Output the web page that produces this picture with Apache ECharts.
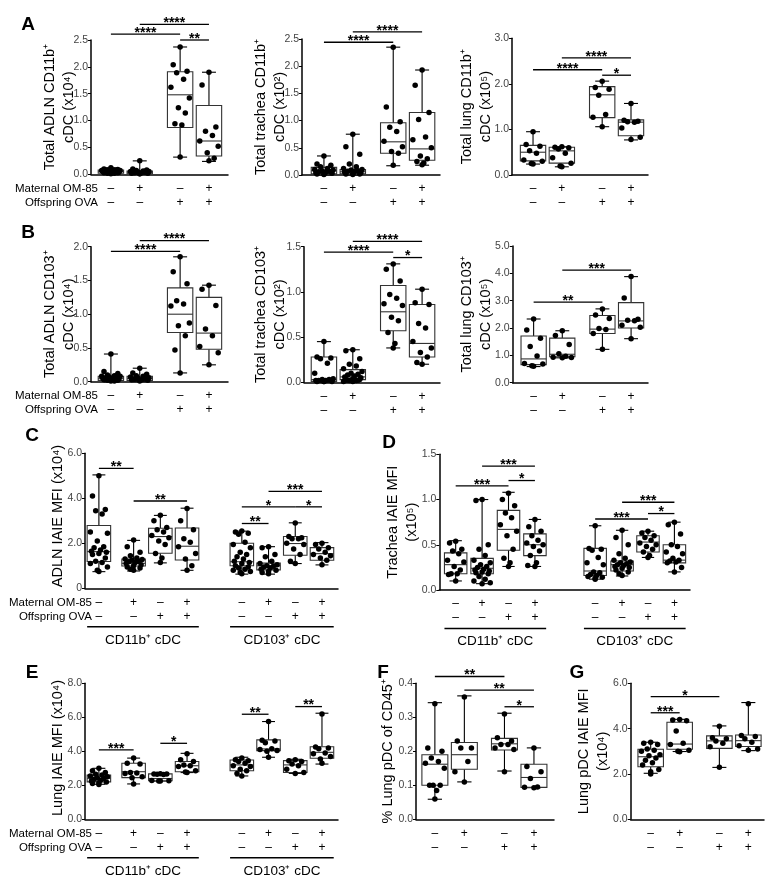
<!DOCTYPE html>
<html><head><meta charset="utf-8">
<script src="https://cdn.jsdelivr.net/npm/echarts@6/dist/echarts.min.js"></script>
<style>html,body{margin:0;padding:0;background:#fff}#c{width:777px;height:883px}</style>
</head><body><div id="c"></div>
<script>
// ---------------- DATA ----------------
const maternal4 = ['–','+','–','+'];
const offspring4 = ['–','–','+','+'];
const maternal8 = maternal4.concat(maternal4);
const offspring8 = offspring4.concat(offspring4);
const rowTitles = ['Maternal OM-85', 'Offspring OVA'];
const cellGroups = ['CD11b⁺ cDC', 'CD103⁺ cDC'];

// box stats: [min, q1, median, q3, max]
const a1Box = [[0.0,0.02,0.05,0.08,0.12],[0.0,0.01,0.03,0.06,0.25],[0.32,0.87,1.48,1.91,2.37],[0.24,0.34,0.62,1.28,1.90]];
const a1Pts = [
  [0.12,0.10,0.09,0.08,0.08,0.07,0.07,0.06,0.06,0.05,0.05,0.05,0.04,0.04,0.03,0.03,0.02,0.02,0.01],
  [0.25,0.10,0.08,0.07,0.06,0.05,0.05,0.04,0.04,0.03,0.03,0.02,0.02,0.01,0.01],
  [2.37,2.04,1.92,1.89,1.77,1.62,1.42,1.24,1.14,0.94,0.92,0.32],
  [1.90,1.66,0.88,0.80,0.72,0.62,0.52,0.40,0.30,0.25]];
const a1Sig = [[0,2,2.61,'****'],[1,3,2.79,'****'],[2,3,2.50,'**']];

const a2Box = [[0,0.02,0.08,0.14,0.35],[0,0.02,0.06,0.10,0.75],[0.17,0.40,0.61,0.96,2.35],[0.18,0.27,0.48,1.15,1.93]];
const a2Pts = [
  [0.35,0.20,0.18,0.15,0.12,0.10,0.09,0.08,0.07,0.06,0.05,0.04,0.03,0.02,0.02,0.01],
  [0.75,0.52,0.38,0.20,0.15,0.12,0.10,0.09,0.08,0.07,0.06,0.05,0.04,0.03,0.02,0.02,0.01],
  [2.35,1.25,0.98,0.88,0.80,0.62,0.52,0.43,0.40,0.18],
  [1.93,1.65,1.15,1.02,0.70,0.65,0.50,0.35,0.30,0.25,0.22,0.19]];
const a2Sig = [[0,2,2.44,'****'],[1,3,2.63,'****']];

const a3Box = [[0.24,0.31,0.50,0.65,0.95],[0.18,0.26,0.53,0.61,0.62],[1.06,1.26,1.76,1.94,2.06],[0.77,0.86,1.16,1.21,1.57]];
const a3Pts = [
  [0.95,0.67,0.63,0.53,0.48,0.33,0.30,0.25,0.24],
  [0.62,0.61,0.60,0.57,0.48,0.38,0.26,0.20,0.18],
  [2.06,1.92,1.88,1.75,1.33,1.27,1.06],
  [1.57,1.20,1.18,1.17,1.16,1.03,0.83,0.78]];
const a3Sig = [[0,2,2.31,'****'],[1,3,2.57,'****'],[2,3,2.19,'*']];

const b1Box = [[0,0.02,0.05,0.08,0.41],[0,0.02,0.05,0.08,0.20],[0.13,0.73,1.00,1.39,1.85],[0.25,0.48,0.72,1.25,1.43]];
const b1Pts = [
  [0.41,0.15,0.12,0.10,0.09,0.08,0.08,0.07,0.06,0.06,0.05,0.05,0.04,0.03,0.03,0.02,0.02,0.01,0.01],
  [0.20,0.13,0.11,0.09,0.08,0.07,0.06,0.05,0.05,0.04,0.03,0.03,0.02,0.02,0.01],
  [1.85,1.63,1.45,1.20,1.15,1.12,0.87,0.83,0.68,0.47,0.13],
  [1.43,1.37,1.13,0.78,0.68,0.52,0.43,0.25]];
const b1Sig = [[0,2,1.93,'****'],[1,3,2.09,'****']];

const b2Box = [[0,0.01,0.03,0.28,0.45],[0,0.03,0.06,0.14,0.36],[0.38,0.57,0.78,1.07,1.31],[0.20,0.28,0.43,0.86,1.03]];
const b2Pts = [
  [0.45,0.28,0.27,0.26,0.21,0.10,0.04,0.03,0.03,0.02,0.02,0.02,0.01,0.01,0.01,0.01],
  [0.36,0.35,0.26,0.20,0.18,0.15,0.12,0.10,0.09,0.08,0.07,0.06,0.05,0.04,0.03,0.03,0.02,0.02,0.01,0.01],
  [1.31,1.25,1.12,0.97,0.93,0.87,0.85,0.72,0.68,0.55,0.43,0.38],
  [1.03,0.88,0.86,0.65,0.60,0.45,0.38,0.33,0.28,0.22,0.20]];
const b2Sig = [[0,2,1.44,'****'],[1,3,1.56,'****'],[2,3,1.38,'*']];

const b3Box = [[0.59,0.66,0.87,1.71,2.33],[0.91,0.95,1.04,1.63,1.90],[1.22,1.80,1.96,2.46,2.70],[1.61,2.00,2.26,2.93,3.88]];
const b3Pts = [
  [2.33,1.93,1.63,1.32,0.98,0.70,0.68,0.62,0.60],
  [1.90,1.73,1.40,1.06,0.97,0.93,0.92,0.91],
  [2.70,2.48,2.35,1.98,1.95,1.80,1.22],
  [3.88,3.10,2.32,2.28,2.27,2.10,2.03,1.61]];
const b3Sig = [[0,2,2.95,'**'],[1,3,4.12,'***']];

const cBox = [[0.74,1.19,1.63,2.79,5.04],[0.77,0.99,1.11,1.30,2.13],[1.13,1.56,2.30,2.67,3.24],[0.80,1.26,1.87,2.68,3.56],
  [0.63,1.00,1.18,2.00,2.54],[0.63,0.82,1.00,1.12,1.85],[1.10,1.47,1.99,2.30,2.91],[1.04,1.25,1.54,1.81,2.03]];
const cPts = [
  [5.0,4.1,3.5,3.45,3.3,2.5,2.45,2.1,1.85,1.8,1.7,1.65,1.6,1.55,1.5,1.35,1.2,1.15,1.1,0.95,0.8,0.75],
  [2.15,1.85,1.6,1.45,1.35,1.3,1.28,1.25,1.2,1.18,1.15,1.1,1.05,1.0,0.95,0.9,0.85,0.8],
  [3.25,3.0,2.7,2.6,2.5,2.35,2.25,2.1,1.95,1.55,1.35,1.15],
  [3.55,3.0,2.6,2.2,2.05,1.85,1.55,1.3,1.0,0.8],
  [2.55,2.5,2.45,2.4,2.05,1.95,1.8,1.6,1.5,1.4,1.3,1.2,1.15,1.1,1.0,0.95,0.9,0.85,0.8,0.75,0.7,0.65],
  [1.85,1.8,1.5,1.4,1.2,1.1,1.05,1.0,0.98,0.95,0.9,0.85,0.8,0.75,0.7,0.65],
  [2.9,2.3,2.25,2.2,2.2,2.0,1.95,1.75,1.5,1.2,1.1],
  [2.0,1.95,1.8,1.75,1.6,1.5,1.45,1.35,1.25,1.05]];
const cSig = [[0,1,5.33,'**'],[1,3,3.88,'**'],[4,5,2.88,'**'],[4,6,3.62,'*'],[5,7,4.31,'***'],[6,7,3.62,'*']];

const dBox = [[0.10,0.18,0.28,0.41,0.545],[0.07,0.18,0.24,0.35,1.0],[0.26,0.44,0.67,0.88,1.08],[0.26,0.38,0.50,0.62,0.78],
  [0.12,0.16,0.21,0.46,0.71],[0.155,0.21,0.28,0.32,0.66],[0.36,0.42,0.53,0.60,0.65],[0.20,0.30,0.33,0.50,0.75]];
const dPts = [
  [0.54,0.52,0.45,0.43,0.40,0.33,0.31,0.26,0.22,0.18,0.18,0.17,0.10],
  [1.0,0.99,0.50,0.45,0.38,0.33,0.30,0.28,0.26,0.25,0.23,0.22,0.21,0.20,0.19,0.18,0.15,0.12,0.10,0.08,0.07],
  [1.07,1.0,0.93,0.85,0.80,0.72,0.65,0.60,0.45,0.35,0.30,0.26],
  [0.78,0.70,0.65,0.60,0.55,0.52,0.50,0.48,0.43,0.38,0.30,0.27,0.26],
  [0.71,0.46,0.45,0.44,0.36,0.30,0.28,0.20,0.19,0.17,0.16,0.15,0.14,0.13,0.12],
  [0.66,0.58,0.50,0.40,0.35,0.33,0.31,0.30,0.29,0.28,0.27,0.26,0.25,0.24,0.22,0.20,0.18,0.16],
  [0.65,0.63,0.60,0.58,0.55,0.52,0.50,0.48,0.45,0.42,0.38,0.36],
  [0.75,0.72,0.62,0.50,0.48,0.42,0.40,0.35,0.33,0.32,0.31,0.30,0.25,0.20]];
const dSig = [[0,2,1.15,'***'],[1,3,1.37,'***'],[2,3,1.21,'*'],[4,6,0.785,'***'],[5,7,0.97,'***'],[6,7,0.845,'*']];

const eBox = [[2.06,2.20,2.41,2.60,3.00],[2.08,2.45,2.80,3.30,3.60],[2.25,2.27,2.40,2.67,2.70],[2.75,2.80,3.15,3.40,3.88],
  [2.55,2.86,3.20,3.49,3.65],[3.65,4.04,4.14,4.67,5.75],[2.70,2.75,3.20,3.45,3.53],[3.25,3.59,3.94,4.27,6.24]];
const ePts = [
  [3.0,2.85,2.75,2.65,2.6,2.55,2.5,2.45,2.4,2.35,2.3,2.25,2.2,2.15,2.1,2.05],
  [3.6,3.3,3.25,2.75,2.72,2.7,2.5,2.45,2.08],
  [2.68,2.67,2.66,2.65,2.64,2.28,2.27,2.26,2.25],
  [3.85,3.5,3.4,3.2,3.15,3.1,2.85,2.78,2.75],
  [3.6,3.5,3.45,3.4,3.3,3.15,3.1,2.95,2.85,2.7,2.55],
  [5.75,4.65,4.6,4.5,4.15,4.1,4.05,4.0,3.65],
  [3.5,3.45,3.4,3.25,3.15,2.95,2.75,2.7],
  [6.2,4.25,4.2,4.15,3.9,3.85,3.7,3.55,3.3]];
const eSig = [[0,1,4.08,'***'],[2,3,4.47,'*'],[4,5,6.18,'**'],[6,7,6.63,'**']];

const fBox = [[0.059,0.10,0.162,0.19,0.343],[0.11,0.147,0.19,0.226,0.363],[0.142,0.204,0.222,0.238,0.312],[0.093,0.094,0.123,0.162,0.21]];
const fPts = [
  [0.34,0.21,0.20,0.18,0.17,0.165,0.15,0.10,0.10,0.10,0.085,0.06],
  [0.36,0.23,0.21,0.21,0.17,0.14,0.11],
  [0.31,0.24,0.23,0.22,0.22,0.21,0.205,0.14],
  [0.21,0.155,0.14,0.12,0.095,0.094,0.093]];
const fSig = [[0,2,0.42,'**'],[1,3,0.38,'**'],[2,3,0.331,'*']];

const gBox = [[2.03,2.32,2.76,3.09,3.40],[2.99,3.09,3.32,4.28,4.41],[2.29,3.13,3.46,3.68,4.12],[3.03,3.21,3.47,3.72,5.15]];
const gPts = [
  [3.4,3.35,3.3,3.1,3.05,3.0,2.85,2.8,2.7,2.6,2.5,2.4,2.2,2.1,2.0],
  [4.4,4.38,4.35,3.9,3.35,3.3,3.05,3.0,2.98],
  [4.1,3.6,3.55,3.45,3.35,3.2,2.3],
  [5.1,3.7,3.65,3.55,3.4,3.25,3.1,3.05]];
const gSig = [[0,2,5.41,'*'],[0,1,4.7,'***']];

// ---------------- LAYOUT / STYLE ----------------
const FF = '"Liberation Sans", Arial, Helvetica, sans-serif';
const pos4AB = [0,1,2.4,3.4];
const pos8 = [0,1.3,2.3,3.3,5.35,6.35,7.35,8.35];
const jit = [0,-0.24,0.24,-0.12,0.12,-0.32,0.32,-0.06,0.18,-0.18,0.06,-0.28,0.28];
const fmt1 = v => v.toFixed(1);
const fmtC = v => v === 0 ? '0' : v.toFixed(1);

const panels = [
  {box:a1Box, pts:a1Pts, sig:a1Sig, grid:[91,40,137,134.3], x:[-0.69,4.06], pos:pos4AB, y:[2.5,0.5], bw:0.88, rows:[maternal4,offspring4], rowTitles:true,
   title:'Total ADLN CD11b⁺\ncDC (x10⁴)', tx:59, letter:'A', lx:28, ly:25},
  {box:a2Box, pts:a2Pts, sig:a2Sig, grid:[302,39,138,136], x:[-0.76,4.02], pos:pos4AB, y:[2.5,0.5], bw:0.88, rows:[maternal4,offspring4],
   title:'Total trachea CD11b⁺\ncDC (x10²)', tx:270},
  {box:a3Box, pts:a3Pts, sig:a3Sig, grid:[512,38.3,136,136.7], x:[-0.73,3.99], pos:pos4AB, y:[3,1], bw:0.88, rows:[maternal4,offspring4],
   title:'Total lung CD11b⁺\ncDC (x10⁵)', tx:476.5},
  {box:b1Box, pts:b1Pts, sig:b1Sig, grid:[91,246.7,137,135], x:[-0.69,4.06], pos:pos4AB, y:[2,0.5], bw:0.88, rows:[maternal4,offspring4], rowTitles:true,
   title:'Total ADLN CD103⁺\ncDC (x10⁴)', tx:59, letter:'B', lx:28, ly:233},
  {box:b2Box, pts:b2Pts, sig:b2Sig, grid:[304,246.7,136,135.6], x:[-0.69,4.02], pos:pos4AB, y:[1.5,0.5], bw:0.88, rows:[maternal4,offspring4],
   title:'Total trachea CD103⁺\ncDC (x10²)', tx:270},
  {box:b3Box, pts:b3Pts, sig:b3Sig, grid:[512.7,246,135.3,136.7], x:[-0.73,3.99], pos:pos4AB, y:[5,1], bw:0.88, rows:[maternal4,offspring4],
   title:'Total lung CD103⁺\ncDC (x10⁵)', tx:476.5},
  {box:cBox, pts:cPts, sig:cSig, grid:[85,453.3,253,135], x:[-0.52,8.95], pos:pos8, y:[6,2], bw:0.88, rows:[maternal8,offspring8], rowTitles:true, groups:[[0,3],[4,7]],
   yfmt:fmtC, title:'ADLN IAIE MFI (x10⁴)', tx:58, ty:516, letter:'C', lx:32, ly:436},
  {box:dBox, pts:dPts, sig:dSig, grid:[439.3,454.3,250.7,135.7], x:[-0.62,8.87], pos:[0,1,2,3,5.28,6.3,7.28,8.28], y:[1.5,0.5], bw:0.85, rows:[maternal8,offspring8], groups:[[0,3],[4,7]],
   title:'Trachea IAIE MFI\n(x10⁵)', tx:402, letter:'D', lx:389, ly:443},
  {box:eBox, pts:ePts, sig:eSig, grid:[85,683.3,253,136], x:[-0.52,8.95], pos:pos8, y:[8,2], bw:0.88, rows:[maternal8,offspring8], rowTitles:true, groups:[[0,3],[4,7]],
   title:'Lung IAIE MFI (x10⁴)', tx:58, ty:748, letter:'E', lx:32, ly:673},
  {box:fBox, pts:fPts, sig:fSig, grid:[416,683.3,138,136], x:[-0.64,4.04], pos:[0,1,2.36,3.36], y:[0.4,0.1], bw:0.88, rows:[maternal4,offspring4],
   title:'% Lung pDC of CD45⁺', tx:388, letter:'F', lx:383, ly:673},
  {box:gBox, pts:gPts, sig:gSig, grid:[630.7,683.3,133.3,136], x:[-0.69,3.91], pos:[0,1,2.37,3.37], y:[6,2], bw:0.88, rows:[maternal4,offspring4],
   title:'Lung pDC IAIE MFI\n(x10⁴)', tx:593, letter:'G', lx:577, ly:673}
];

// ---------------- BUILD ----------------
const grids = [], xAxes = [], yAxes = [], series = [], graphics = [];
const txt = (extra) => Object.assign({fontFamily: FF, fill: '#000', align: 'center', verticalAlign: 'middle', textAlign: 'center', textVerticalAlign: 'middle'}, extra);

panels.forEach((P, gi) => {
  const [l, t, w, h] = P.grid;
  grids.push({left: l, top: t, width: w, height: h, containLabel: false, outerBoundsMode: 'none'});
  const labels = P.pos.map((p, i) => P.rows.map(r => r[i]).join('\n'));
  xAxes.push({
    gridIndex: gi, type: 'value', min: P.x[0], max: P.x[1],
    axisLine: {show: true, onZero: false, lineStyle: {color: '#000', width: 1.5}},
    axisTick: {show: false}, splitLine: {show: false},
    axisLabel: {
      show: true, customValues: P.pos, margin: 7, fontSize: 12, lineHeight: 14, color: '#000', fontFamily: FF,
      formatter: (v) => { let k = 0, d = 1e9; P.pos.forEach((p, i) => { const dd = Math.abs(p - v); if (dd < d) { d = dd; k = i; } }); return labels[k]; }
    }
  });
  yAxes.push({
    gridIndex: gi, type: 'value', min: 0, max: P.y[0], interval: P.y[1],
    axisLine: {show: true, onZero: false, lineStyle: {color: '#000', width: 1.5}},
    axisTick: {show: true, length: 3, lineStyle: {color: '#000', width: 1}},
    splitLine: {show: false},
    axisLabel: {margin: 3, fontSize: 10.5, color: '#444', fontFamily: FF, formatter: P.yfmt || fmt1}
  });
  // boxes
  series.push({
    type: 'custom', xAxisIndex: gi, yAxisIndex: gi, clip: false, silent: true, z: 2,
    data: P.box.map((b, i) => [P.pos[i]].concat(b)),
    encode: {x: 0, y: [1, 2, 3, 4, 5]},
    renderItem: (params, api) => {
      const x = api.value(0);
      const pMin = api.coord([x, api.value(1)]), pQ1 = api.coord([x, api.value(2)]), pMd = api.coord([x, api.value(3)]);
      const pQ3 = api.coord([x, api.value(4)]), pMax = api.coord([x, api.value(5)]);
      const bw = api.size([P.bw, 0])[0], cw = bw * 0.55, cx = pMin[0];
      const ls = {stroke: '#000', lineWidth: 1.1};
      return {type: 'group', children: [
        {type: 'line', shape: {x1: cx, y1: pMax[1], x2: cx, y2: pQ3[1]}, style: ls},
        {type: 'line', shape: {x1: cx, y1: pQ1[1], x2: cx, y2: pMin[1]}, style: ls},
        {type: 'line', shape: {x1: cx - cw / 2, y1: pMax[1], x2: cx + cw / 2, y2: pMax[1]}, style: ls},
        {type: 'line', shape: {x1: cx - cw / 2, y1: pMin[1], x2: cx + cw / 2, y2: pMin[1]}, style: ls},
        {type: 'rect', shape: {x: cx - bw / 2, y: pQ3[1], width: bw, height: pQ1[1] - pQ3[1]}, style: {stroke: '#333', lineWidth: 1.1, fill: '#fff'}},
        {type: 'line', shape: {x1: cx - bw / 2, y1: pMd[1], x2: cx + bw / 2, y2: pMd[1]}, style: {stroke: '#333', lineWidth: 1.1}}
      ]};
    }
  });
  // points
  const pts = [];
  P.pts.forEach((g, gi2) => g.forEach((v, i) => {
    const j = (i === 0 || i === g.length - 1) ? 0 : jit[i % jit.length];
    pts.push([P.pos[gi2] + j * (P.bw / 0.88), v]);
  }));
  series.push({type: 'scatter', xAxisIndex: gi, yAxisIndex: gi, data: pts, symbol: 'circle', symbolSize: 5.5,
    itemStyle: {color: '#000', opacity: 1}, silent: true, z: 4, clip: false});
  // significance bars
  series.push({
    type: 'custom', xAxisIndex: gi, yAxisIndex: gi, clip: false, silent: true, z: 5,
    data: P.sig.map(s => [P.pos[s[0]], P.pos[s[1]], s[2]]),
    encode: {x: [0, 1], y: 2},
    renderItem: (params, api) => {
      const a = api.coord([api.value(0), api.value(2)]), b = api.coord([api.value(1), api.value(2)]);
      return {type: 'group', children: [
        {type: 'line', shape: {x1: a[0], y1: a[1], x2: b[0], y2: b[1]}, style: {stroke: '#000', lineWidth: 1.3}},
        {type: 'text', x: (a[0] + b[0]) / 2, y: a[1] - 1, style: txt({text: P.sig[params.dataIndex][3], fontSize: 14, fontWeight: 'bold'})}
      ]};
    }
  });
  // cell-group underlines
  if (P.groups) {
    series.push({
      type: 'custom', xAxisIndex: gi, yAxisIndex: gi, clip: false, silent: true, z: 5,
      data: P.groups.map(g => [P.pos[g[0]] - P.bw / 2, P.pos[g[1]] + P.bw / 2, 0]),
      encode: {x: [0, 1], y: 2},
      renderItem: (params, api) => {
        const a = api.coord([api.value(0), 0]), b = api.coord([api.value(1), 0]);
        return {type: 'group', children: [
          {type: 'line', shape: {x1: a[0], y1: a[1] + 38.5, x2: b[0], y2: a[1] + 38.5}, style: {stroke: '#000', lineWidth: 1.5}},
          {type: 'text', x: (a[0] + b[0]) / 2, y: a[1] + 51.5, style: txt({text: cellGroups[params.dataIndex], fontSize: 13.5})}
        ]};
      }
    });
  }
  // axis title
  graphics.push({type: 'text', x: P.tx, y: P.ty || (t + h / 2), rotation: Math.PI / 2,
    style: txt({text: P.title, fontSize: 14.5, lineHeight: 19})});
  if (P.letter) graphics.push({type: 'text', x: P.lx, y: P.ly, style: txt({text: P.letter, fontSize: 19, fontWeight: 'bold'})});
  if (P.rowTitles) {
    rowTitles.forEach((rt, k) => graphics.push({type: 'text', x: l + 7, y: t + h + 14.5 + 14 * k,
      style: txt({text: rt, fontSize: 11.5, align: 'right', textAlign: 'right'})}));
  }
});

const chart = echarts.init(document.getElementById('c'));
chart.setOption({
  animation: false, backgroundColor: '#fff',
  grid: grids, xAxis: xAxes, yAxis: yAxes, series: series, graphic: graphics
});
</script>
</body></html>
